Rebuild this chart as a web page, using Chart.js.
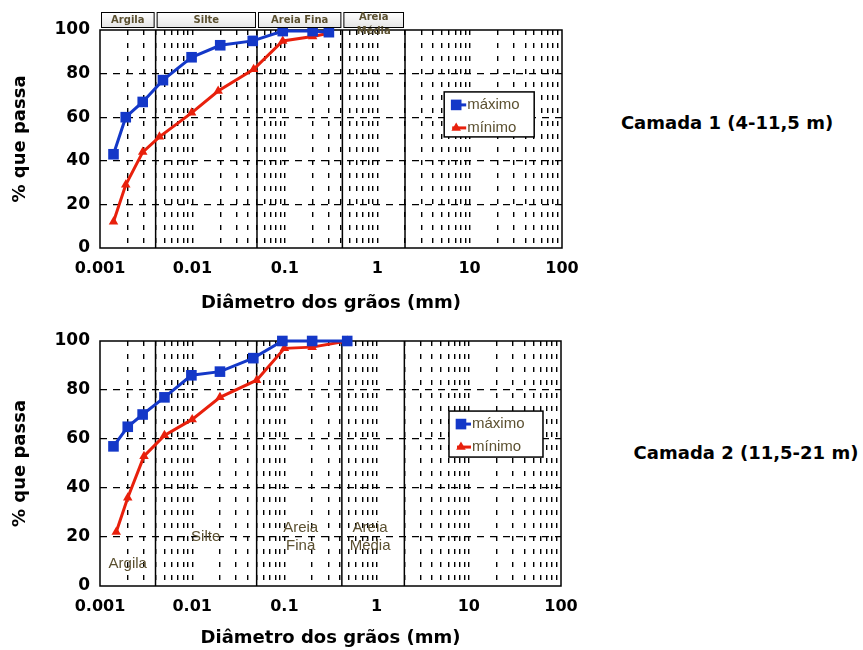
<!DOCTYPE html>
<html>
<head>
<meta charset="utf-8">
<script src="https://cdn.jsdelivr.net/npm/chart.js@4.4.1/dist/chart.umd.min.js"></script>
<style>
  body { margin: 0; background: #fff; }
  #wrap { position: relative; width: 863px; height: 650px; background: #fff; overflow: hidden; }
  canvas { position: absolute; left: 0; }
  .camada { position: absolute; font: bold 18px 'DejaVu Sans', sans-serif; color: #000; white-space: nowrap; transform: translate(-50%, -50%); }
</style>
</head>
<body>
<div id="wrap">
  <canvas id="c1" width="590" height="320" style="top:0"></canvas>
  <canvas id="c2" width="590" height="330" style="top:320px"></canvas>
  <div class="camada" style="left:727px;top:122px">Camada 1 (4-11,5 m)</div>
  <div class="camada" style="left:746px;top:452px">Camada 2 (11,5-21 m)</div>
</div>
<script>
// Camada 1 - diâmetros (mm) e % que passa
const c1MaxD = [0.0014, 0.0019, 0.0029, 0.0048, 0.0098, 0.02, 0.045, 0.095, 0.2, 0.3];
const c1MaxP = [43, 60, 67, 77, 87.5, 93, 95, 99.5, 99.5, 99];
const c1MinD = [0.0014, 0.0019, 0.0029, 0.0044, 0.0098, 0.019, 0.046, 0.095, 0.2, 0.3];
const c1MinP = [12, 29, 44, 51, 62, 72, 82, 95, 97, 98.5];

// Camada 2
const c2MaxD = [0.0014, 0.002, 0.0029, 0.005, 0.0098, 0.02, 0.046, 0.095, 0.2, 0.48];
const c2MaxP = [57, 65, 70, 77, 86, 87.5, 93, 100, 100, 100];
const c2MinD = [0.0015, 0.002, 0.003, 0.005, 0.01, 0.02, 0.05, 0.1, 0.2, 0.48];
const c2MinP = [22, 36, 53, 61.5, 68, 77, 84, 97, 97.5, 100];

// limites das frações (mm) e nomes
const boundaries = [0.004, 0.05, 0.42, 2];
const classNames = ['Argila', 'Silte', 'Areia Fina', 'Areia Média'];

// eixos
const xTickValues = [0.001, 0.01, 0.1, 1, 10, 100];
const xTickLabels = ['0.001', '0.01', '0.1', '1', '10', '100'];
const yTickValues = [0, 20, 40, 60, 80, 100];

const seriesNames = ['máximo', 'mínimo'];

// rótulos dentro do gráfico da camada 2
const c2NoteText = [['Argila'], ['Silte'], ['Areia', 'Fina'], ['Areia', 'Média']];
const c2NoteX = [0.002, 0.014, 0.15, 0.85];
const c2NoteY = [9, 20, 20, 20];

const BLUE = '#1438c8';
const RED = '#e8200c';
const NOTE_COLOR = '#5b5030';

function pts(xs, ys) {
    return xs.map((x, i) => ({ x: x, y: ys[i] }));
}

function makeDatasets(maxD, maxP, minD, minP) {
    const sets = [
        {
            label: seriesNames[0], data: pts(maxD, maxP), showLine: true,
            borderColor: BLUE, backgroundColor: BLUE, borderWidth: 3,
            pointStyle: 'rect', pointRadius: 7.5, pointBorderWidth: 0, order: 0, clip: false
        },
        {
            label: seriesNames[1], data: pts(minD, minP), showLine: true,
            borderColor: RED, backgroundColor: RED, borderWidth: 3,
            pointStyle: 'triangle', pointRadius: 5.5, pointBorderWidth: 0, order: 0, clip: false
        }
    ];
    boundaries.forEach(b => {
        sets.push({
            label: '', data: [{ x: b, y: 0 }, { x: b, y: 100 }], showLine: true,
            borderColor: '#000', borderWidth: 1.5, pointRadius: 0, order: 1
        });
    });
    return sets;
}

function gridValues() {
    const out = [];
    for (let i = 0; i < xTickValues.length - 1; i++) {
        for (let m = 1; m <= 9; m++) out.push(xTickValues[i] * m);
    }
    out.push(xTickValues[xTickValues.length - 1]);
    return out;
}

// moldura, caixas de frações, legenda e notas
const soilDecor = {
    id: 'soilDecor',
    beforeDatasetsDraw(chart) {
        const { ctx, chartArea: a } = chart;
        ctx.save();
        ctx.strokeStyle = '#000';
        ctx.lineWidth = 1.5;
        ctx.strokeRect(a.left, a.top, a.right - a.left, a.bottom - a.top);
        ctx.restore();
    },
    afterDraw(chart, args, opts) {
        const { ctx, chartArea: a } = chart;
        const xs = chart.scales.x, ys = chart.scales.y;
        ctx.save();

        if (opts.classBoxes) {
            const edges = [xs.min].concat(boundaries);
            ctx.font = 'bold 10px "DejaVu Sans"';
            ctx.textAlign = 'center';
            ctx.textBaseline = 'middle';
            for (let i = 0; i < classNames.length; i++) {
                const x1 = xs.getPixelForValue(edges[i]) + 1;
                const x2 = xs.getPixelForValue(edges[i + 1]) - 1;
                const y1 = a.top - 18, y2 = a.top - 2;
                const g = ctx.createLinearGradient(0, y1, 0, y2);
                g.addColorStop(0, '#ffffff');
                g.addColorStop(1, '#e4e4e4');
                ctx.fillStyle = g;
                ctx.fillRect(x1, y1, x2 - x1, y2 - y1);
                ctx.strokeStyle = '#000';
                ctx.lineWidth = 1;
                ctx.strokeRect(x1 + 0.5, y1 + 0.5, x2 - x1 - 1, y2 - y1 - 1);
                ctx.fillStyle = NOTE_COLOR;
                const name = classNames[i];
                const cx = (x1 + x2) / 2;
                if (ctx.measureText(name).width > x2 - x1 - 4 && name.indexOf(' ') > 0) {
                    const parts = name.split(' ');
                    ctx.fillText(parts[0], cx, y1 + 5);
                    ctx.fillText(parts.slice(1).join(' '), cx, y1 + 19);
                } else {
                    ctx.fillText(name, cx, (y1 + y2) / 2);
                }
            }
        }

        if (opts.notes) {
            ctx.font = '15px "Liberation Sans"';
            ctx.fillStyle = NOTE_COLOR;
            ctx.textAlign = 'center';
            ctx.textBaseline = 'middle';
            c2NoteText.forEach((lines, i) => {
                const px = xs.getPixelForValue(c2NoteX[i]);
                const py = ys.getPixelForValue(c2NoteY[i]);
                lines.forEach((t, j) => {
                    ctx.fillText(t, px, py + (j - (lines.length - 1) / 2) * 18);
                });
            });
        }

        if (opts.legend) {
            const L = opts.legend;
            const bx = a.left + L.x * (a.right - a.left);
            const by = a.top + L.y * (a.bottom - a.top);
            ctx.fillStyle = '#fff';
            ctx.fillRect(bx, by, L.w, L.h);
            ctx.strokeStyle = '#000';
            ctx.lineWidth = 1.5;
            ctx.strokeRect(bx, by, L.w, L.h);
            ctx.font = '15px "Liberation Sans"';
            ctx.textAlign = 'left';
            ctx.textBaseline = 'middle';
            for (let i = 0; i < 2; i++) {
                const ds = chart.data.datasets[i];
                const ry = by + 13 + i * 23;
                ctx.strokeStyle = ds.borderColor;
                ctx.lineWidth = ds.borderWidth;
                ctx.beginPath();
                ctx.moveTo(bx + 8, ry);
                ctx.lineTo(bx + 22, ry);
                ctx.stroke();
                ctx.fillStyle = ds.backgroundColor;
                Chart.helpers.drawPoint(ctx, { pointStyle: ds.pointStyle, radius: ds.pointRadius, borderWidth: 0 }, bx + 12, ry);
                ctx.fillStyle = NOTE_COLOR;
                ctx.fillText(ds.label, bx + 23, ry);
            }
        }
        ctx.restore();
    }
};

function makeChart(id, datasets, cfg) {
    return new Chart(document.getElementById(id), {
        type: 'scatter',
        data: { datasets: datasets },
        options: {
            responsive: false,
            animation: false,
            devicePixelRatio: 1,
            layout: { padding: { left: 0, right: cfg.padRight, top: cfg.padTop, bottom: 0 } },
            plugins: {
                legend: { display: false },
                tooltip: { enabled: false },
                soilDecor: cfg.decor
            },
            scales: {
                x: {
                    type: 'logarithmic',
                    min: xTickValues[0],
                    max: xTickValues[xTickValues.length - 1],
                    afterBuildTicks: s => { s.ticks = gridValues().map(v => ({ value: v })); },
                    afterFit: s => { s.height = cfg.xHeight; s.paddingRight = 0; },
                    ticks: {
                        autoSkip: false, maxRotation: 0, minRotation: 0, padding: 11,
                        color: '#000',
                        font: { family: 'DejaVu Sans', weight: 'bold', size: 16 },
                        callback: value => {
                            const i = xTickValues.findIndex(v => Math.abs(Math.log10(v) - Math.log10(value)) < 1e-6);
                            return i >= 0 ? xTickLabels[i] : '';
                        }
                    },
                    grid: {
                        drawTicks: false,
                        lineWidth: 1.4,
                        color: c => (c.tick && c.tick.value > xTickValues[0] && c.tick.value < xTickValues[xTickValues.length - 1]) ? '#000' : 'rgba(0,0,0,0)'
                    },
                    border: { display: false, dash: [5, 8] },
                    title: {
                        display: true, text: 'Diâmetro dos grãos (mm)', color: '#000',
                        font: { family: 'DejaVu Sans', weight: 'bold', size: 18 },
                        padding: { top: 0, bottom: cfg.titlePad }
                    }
                },
                y: {
                    min: 0, max: 100,
                    afterBuildTicks: s => { s.ticks = yTickValues.map(v => ({ value: v })); },
                    afterFit: s => { s.width = 100; },
                    ticks: {
                        padding: 10, color: '#000',
                        font: { family: 'DejaVu Sans', weight: 'bold', size: 17 }
                    },
                    grid: {
                        drawTicks: false,
                        lineWidth: 1.2,
                        color: c => (c.tick && c.tick.value > 0 && c.tick.value < 100) ? '#000' : 'rgba(0,0,0,0)'
                    },
                    border: { display: false, dash: [7, 6] },
                    title: {
                        display: true, text: '% que passa', color: '#000',
                        font: { family: 'DejaVu Sans', weight: 'bold', size: 18 },
                        padding: { top: 10, bottom: 0 }
                    }
                }
            }
        },
        plugins: [soilDecor]
    });
}

makeChart('c1', makeDatasets(c1MaxD, c1MaxP, c1MinD, c1MinP), {
    padRight: 28, padTop: 30, xHeight: 72, titlePad: 6,
    decor: { classBoxes: true, legend: { x: 0.745, y: 0.284, w: 90, h: 45 } }
});

makeChart('c2', makeDatasets(c2MaxD, c2MaxP, c2MinD, c2MinP), {
    padRight: 29, padTop: 21, xHeight: 64, titlePad: 1,
    decor: { notes: true, legend: { x: 0.757, y: 0.286, w: 94, h: 46 } }
});
</script>
</body>
</html>
